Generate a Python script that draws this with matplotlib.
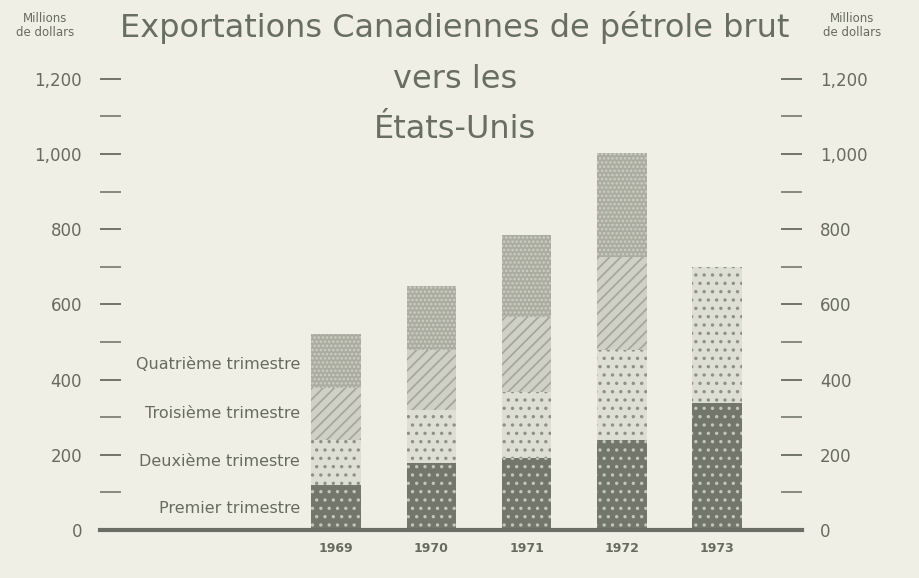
import numpy as np
import matplotlib.pyplot as plt
from matplotlib.ticker import MultipleLocator, FuncFormatter

years = ['1969', '1970', '1971', '1972', '1973']
q1 = [120, 178, 191, 239, 338]
q2 = [119, 141, 176, 240, 361]
q3 = [139, 160, 199, 247, 0]
q4 = [143, 170, 219, 277, 0]
quarter_labels = ['Premier trimestre', 'Deuxième trimestre',
                  'Troisième trimestre', 'Quatrième trimestre']

bg = '#efefe6'
ink = '#676b5e'

plt.rcParams['font.family'] = ['DejaVu Sans']
plt.rcParams['hatch.linewidth'] = 1.2

fig = plt.figure(figsize=(9.19, 5.78), dpi=100, facecolor=bg)
ax = fig.add_axes([100 / 919, 48 / 578, 702 / 919, 470 / 578])
ax.set_facecolor(bg)

x = np.arange(len(years))
w = 0.52
styles = [
    dict(color='#72766b', edgecolor='#c4c6bb', hatch='..'),
    dict(color='#dddfd5', edgecolor='#8d9085', hatch='..'),
    dict(color='#cfd1c6', edgecolor='#a2a598', hatch='///'),
    dict(color='#a9ac9f', edgecolor='#cdcfc4', hatch='....'),
]
bottom = np.zeros(len(years))
for vals, st in zip([q1, q2, q3, q4], styles):
    vals = np.array(vals, dtype=float)
    ax.bar(x, vals, w, bottom=bottom, linewidth=0, **st)
    bottom += vals

ax.set_xlim(-2.48, 4.89)
ax.set_ylim(0, 1250)

for s in ['top', 'left', 'right']:
    ax.spines[s].set_visible(False)
ax.spines['bottom'].set_linewidth(3)
ax.spines['bottom'].set_color('#6b6e64')

ax.set_xticks(x)
ax.set_xticklabels(years, fontweight='bold')
ax.tick_params(axis='x', length=0, pad=9, labelsize=9, colors=ink)

ax.yaxis.set_major_locator(MultipleLocator(200))
ax.yaxis.set_minor_locator(MultipleLocator(100))
ax.yaxis.set_major_formatter(FuncFormatter(lambda v, p: f'{int(v):,}'))
ax.tick_params(axis='y', which='both', direction='in', length=15, width=1.3,
               color='#7f8276', left=True, right=True,
               labelleft=True, labelright=True)
ax.tick_params(axis='y', which='major', labelsize=12, colors=ink, pad=13)
for lab in ax.get_yticklabels():
    lab.set_color(ink)

# quarter labels beside the first bar
label_y = [58, 181, 311, 439]
for txt, yv in zip(quarter_labels, label_y):
    ax.text(-0.38, yv, txt, ha='right', va='center', fontsize=11.5, color=ink)

fig.text(45 / 919, 1 - 25 / 578, 'Millions\nde dollars', ha='center', va='center',
         fontsize=8.5, color=ink, linespacing=1.1)
fig.text(852 / 919, 1 - 25 / 578, 'Millions\nde dollars', ha='center', va='center',
         fontsize=8.5, color=ink, linespacing=1.1)

title_lines = ['Exportations Canadiennes de pétrole brut', 'vers les', 'États-Unis']
for i, line in enumerate(title_lines):
    fig.text(455 / 919, 1 - (28 + 51 * i) / 578, line, ha='center', va='center',
             fontsize=23, color='#686e60')

fig.savefig('out.png', dpi=100, facecolor=bg)
